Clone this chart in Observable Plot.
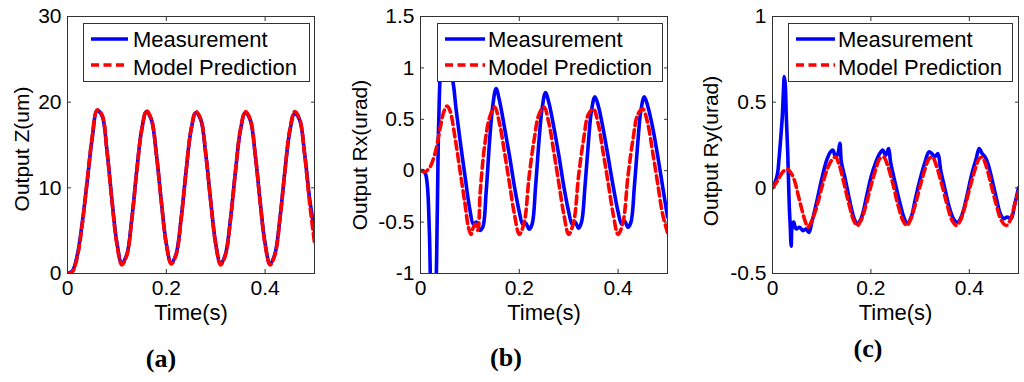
<!DOCTYPE html>
<html><head><meta charset="utf-8">
<script src="https://cdn.jsdelivr.net/npm/d3@7"></script>
<script src="https://cdn.jsdelivr.net/npm/@observablehq/plot@0.6"></script>
<style>
body{margin:0;background:#fff;}
#wrap{position:relative;width:1024px;height:382px;overflow:hidden;background:#fff;}
.panel{position:absolute;top:0;}
.legend{position:absolute;top:23px;z-index:2;}
.cap{position:absolute;font-family:"Liberation Serif","Times New Roman",serif;font-weight:bold;font-size:26px;transform:translate(-50%,-50%);line-height:1;}
</style></head>
<body><div id="wrap"></div>
<script>
// ---------- data ----------
const seriesNames = ["Measurement", "Model Prediction"];
const panelCaptions = ["(a)", "(b)", "(c)"];
const yLabels = ["Output Z(um)", "Output Rx(urad)", "Output Ry(urad)"];
const xLabel = "Time(s)";
const xTicks = [0, 0.2, 0.4];
const yTicksZ = [0, 10, 20, 30];
const yTicksRx = [-1, -0.5, 0, 0.5, 1, 1.5];
const yTicksRy = [-0.5, 0, 0.5, 1];

// Panel (a): Output Z
const timeZ = [0,0.01,0.02,0.03,0.04,0.05,0.06,0.07,0.08,0.09,0.10,0.11,0.12,0.13,0.14,0.15,0.16,0.17,0.18,0.19,0.20,0.21,0.22,0.23,0.24,0.25,0.26,0.27,0.28,0.29,0.30,0.31,0.32,0.33,0.34,0.35,0.36,0.37,0.38,0.39,0.40,0.41,0.42,0.43,0.44,0.45,0.46,0.47,0.48,0.49,0.50];
const measZ = [0,0.3,2.2,6.0,10.8,15.8,19.0,18.4,14.3,8.6,3.6,1.2,2.2,6.3,11.9,16.7,18.9,17.9,13.9,8.4,3.5,1.2,2.3,6.4,11.9,16.7,18.8,17.9,13.9,8.4,3.5,1.1,2.3,6.4,11.9,16.7,18.8,17.9,13.9,8.4,3.5,1.1,2.3,6.4,11.9,16.6,18.7,17.9,14.0,8.8,5.0];
const predZ = [0,0.2,2.0,5.8,10.9,16.0,19.1,18.5,14.2,8.4,3.4,1.0,2.1,6.2,11.8,16.7,19.0,18.0,13.9,8.3,3.4,1.1,2.2,6.3,11.9,16.8,18.9,18.0,13.9,8.3,3.4,1.0,2.2,6.3,11.9,16.8,18.9,18.0,13.9,8.3,3.4,1.0,2.2,6.3,11.9,16.8,18.9,18.0,13.9,8.3,3.6];

// Panel (b): Output Rx
const timeRxMeas = [0,0.005,0.01,0.014,0.018,0.022,0.027,0.031,0.034,0.037,0.041,0.046,0.052,0.058,0.065,0.072,0.08,0.09,0.1,0.107,0.113,0.12,0.126,0.133,0.14,0.146,0.153,0.16,0.17,0.18,0.19,0.2,0.207,0.213,0.22,0.226,0.233,0.24,0.246,0.253,0.26,0.27,0.28,0.29,0.3,0.307,0.313,0.32,0.326,0.333,0.34,0.346,0.353,0.36,0.37,0.38,0.39,0.4,0.407,0.413,0.42,0.426,0.433,0.44,0.446,0.453,0.46,0.47,0.48,0.49,0.5];
const measRx = [0,0.0,-0.03,-0.15,-0.6,-1.3,-1.5,-1.2,-0.4,0.5,1.0,1.15,1.05,0.97,0.88,0.6,0.3,-0.05,-0.38,-0.52,-0.5,-0.58,-0.55,-0.2,0.3,0.62,0.8,0.68,0.42,0.15,-0.15,-0.4,-0.52,-0.51,-0.57,-0.52,-0.15,0.3,0.6,0.76,0.66,0.42,0.15,-0.15,-0.4,-0.52,-0.5,-0.56,-0.5,-0.15,0.28,0.58,0.72,0.63,0.4,0.13,-0.15,-0.4,-0.52,-0.49,-0.55,-0.5,-0.15,0.28,0.58,0.72,0.63,0.42,0.15,-0.15,-0.45];
const timeRxPred = [0,0.01,0.015,0.02,0.03,0.04,0.047,0.054,0.06,0.07,0.08,0.09,0.097,0.102,0.107,0.111,0.116,0.121,0.13,0.14,0.15,0.16,0.17,0.18,0.19,0.2,0.21,0.22,0.23,0.24,0.25,0.26,0.27,0.28,0.29,0.3,0.31,0.32,0.33,0.34,0.35,0.36,0.37,0.38,0.39,0.4,0.41,0.42,0.43,0.44,0.45,0.46,0.47,0.48,0.49,0.5];
const predRx = [0,-0.01,0.01,0.04,0.18,0.42,0.57,0.63,0.58,0.32,0.0,-0.32,-0.55,-0.62,-0.55,-0.52,-0.58,-0.2,0.25,0.52,0.62,0.46,0.18,-0.12,-0.42,-0.62,-0.5,-0.05,0.3,0.55,0.62,0.46,0.18,-0.12,-0.42,-0.62,-0.5,-0.05,0.3,0.55,0.6,0.45,0.17,-0.12,-0.42,-0.62,-0.5,-0.05,0.3,0.55,0.6,0.46,0.18,-0.12,-0.42,-0.6];

// Panel (c): Output Ry
const timeRyMeas = [0,0.005,0.01,0.013,0.017,0.02,0.022,0.024,0.026,0.028,0.031,0.034,0.036,0.038,0.04,0.043,0.048,0.055,0.062,0.068,0.074,0.08,0.09,0.1,0.11,0.118,0.123,0.128,0.133,0.137,0.14,0.148,0.158,0.166,0.172,0.18,0.192,0.2,0.21,0.218,0.224,0.23,0.236,0.24,0.25,0.26,0.268,0.274,0.282,0.29,0.3,0.31,0.318,0.324,0.33,0.336,0.342,0.35,0.36,0.37,0.377,0.385,0.395,0.405,0.414,0.42,0.426,0.432,0.438,0.446,0.455,0.463,0.47,0.477,0.485,0.492,0.5];
const measRy = [0,0.03,0.08,0.16,0.3,0.42,0.55,0.65,0.6,0.42,0.2,-0.1,-0.22,-0.34,-0.22,-0.2,-0.24,-0.23,-0.25,-0.24,-0.26,-0.2,-0.08,0.05,0.16,0.21,0.22,0.18,0.2,0.26,0.15,0.05,-0.09,-0.18,-0.21,-0.18,-0.04,0.06,0.15,0.2,0.22,0.19,0.23,0.15,0.02,-0.1,-0.18,-0.21,-0.17,-0.07,0.05,0.15,0.21,0.2,0.18,0.2,0.1,0.0,-0.12,-0.19,-0.2,-0.16,-0.05,0.08,0.17,0.23,0.2,0.18,0.14,0.05,-0.06,-0.15,-0.18,-0.17,-0.18,-0.1,0.0];
const timeRyPred = [0,0.01,0.02,0.03,0.037,0.045,0.052,0.06,0.067,0.072,0.08,0.09,0.1,0.11,0.12,0.128,0.135,0.145,0.155,0.165,0.172,0.18,0.19,0.2,0.21,0.218,0.226,0.234,0.245,0.255,0.265,0.273,0.28,0.29,0.3,0.31,0.318,0.325,0.333,0.345,0.355,0.365,0.374,0.382,0.392,0.402,0.412,0.42,0.426,0.434,0.445,0.455,0.465,0.475,0.483,0.492,0.5];
const predRy = [0,0.04,0.09,0.11,0.09,0.04,-0.04,-0.13,-0.2,-0.23,-0.19,-0.11,0.0,0.1,0.16,0.18,0.14,0.03,-0.09,-0.19,-0.22,-0.19,-0.1,0.01,0.11,0.17,0.18,0.13,0.02,-0.1,-0.19,-0.22,-0.19,-0.1,0.01,0.11,0.17,0.18,0.13,0.01,-0.1,-0.19,-0.22,-0.19,-0.1,0.01,0.11,0.17,0.18,0.13,0.01,-0.1,-0.19,-0.22,-0.19,-0.1,-0.02];

// ---------- build ----------
const table = (t, v) => t.map((d, i) => ({t: d, v: v[i]}));
const panels = [
  {meas: table(timeZ, measZ), pred: table(timeZ, predZ), yDomain: [0, 30], yTicks: yTicksZ, yLabel: yLabels[0], caption: panelCaptions[0]},
  {meas: table(timeRxMeas, measRx), pred: table(timeRxPred, predRx), yDomain: [-1, 1.5], yTicks: yTicksRx, yLabel: yLabels[1], caption: panelCaptions[1]},
  {meas: table(timeRyMeas, measRy), pred: table(timeRyPred, predRy), yDomain: [-0.5, 1], yTicks: yTicksRy, yLabel: yLabels[2], caption: panelCaptions[2]}
];
// layout (pixels)
const layout = [
  {left: 0, width: 340, ml: 67, mr: 26, labelDx: -45, labelDy: 4, legLeft: 83, legWidth: 227, sw: [8, 45], tx: 50, capX: 161, capY: 359},
  {left: 340, width: 340, ml: 80, mr: 13, labelDx: -60, labelDy: 10, legLeft: 437, legWidth: 226, sw: [8, 48], tx: 51, capX: 506, capY: 358},
  {left: 680, width: 344, ml: 92, mr: 6, labelDx: -61, labelDy: 6, legLeft: 788, legWidth: 225, sw: [8, 47], tx: 50, capX: 868, capY: 349}
];
const BLUE = "#0000ff", RED = "#ff0000";
const fmt = d => String(d);
const wrap = document.getElementById("wrap");

panels.forEach((p, i) => {
  const L = layout[i];
  const chart = Plot.plot({
    width: L.width, height: 330,
    marginLeft: L.ml, marginRight: L.mr, marginTop: 16, marginBottom: 57,
    x: {domain: [0, 0.5]},
    y: {domain: p.yDomain},
    style: {fontFamily: "'Liberation Sans', Arial, sans-serif", fontSize: "21px", color: "#000", background: "transparent", overflow: "visible"},
    marks: [
      Plot.line(p.meas, {x: "t", y: "v", stroke: BLUE, strokeWidth: 3.6, curve: "catmull-rom", clip: true}),
      Plot.line(p.pred, {x: "t", y: "v", stroke: RED, strokeWidth: 3.6, strokeDasharray: "8,4.5", curve: "catmull-rom", clip: true}),
      Plot.frame({stroke: "#333", strokeWidth: 1}),
      Plot.axisX(xTicks, {anchor: "bottom", tickSize: -4, tickFormat: () => "", label: null, stroke: "#333"}),
      Plot.axisX(xTicks, {anchor: "top", tickSize: -4, tickFormat: () => "", label: null, stroke: "#333"}),
      Plot.axisY(p.yTicks, {anchor: "left", tickSize: -4, tickFormat: () => "", label: null, stroke: "#333"}),
      Plot.axisY(p.yTicks, {anchor: "right", tickSize: -4, tickFormat: () => "", label: null, stroke: "#333"}),
      Plot.axisX(xTicks, {anchor: "bottom", tickSize: 0, tickPadding: 7, tickFormat: fmt, label: null, fill: "#000"}),
      Plot.axisY(p.yTicks, {anchor: "left", tickSize: 0, tickPadding: 6, tickFormat: fmt, label: null, fill: "#000"}),
      Plot.text([p.yLabel], {frameAnchor: "left", text: d => d, rotate: -90, dx: L.labelDx, dy: L.labelDy, fontSize: 21, textAnchor: "middle", lineAnchor: "middle", fill: "#000"}),
      Plot.text([xLabel], {frameAnchor: "bottom", text: d => d, dy: 39, fontSize: 22, lineAnchor: "middle", fill: "#000"})
    ]
  });
  chart.classList.add("panel");
  chart.style.left = L.left + "px";
  wrap.appendChild(chart);

  // legend
  const ns = "http://www.w3.org/2000/svg";
  const leg = document.createElementNS(ns, "svg");
  leg.setAttribute("class", "legend");
  leg.setAttribute("width", L.legWidth);
  leg.setAttribute("height", 60);
  leg.style.left = L.legLeft + "px";
  const rect = document.createElementNS(ns, "rect");
  rect.setAttribute("x", 0.5); rect.setAttribute("y", 0.5);
  rect.setAttribute("width", L.legWidth - 1); rect.setAttribute("height", 58);
  rect.setAttribute("fill", "#fff"); rect.setAttribute("stroke", "#333");
  leg.appendChild(rect);
  const rows = [{name: seriesNames[0], color: BLUE, dash: null, ly: 16, ty: 16},
                {name: seriesNames[1], color: RED, dash: "8,4.5", ly: 42, ty: 44}];
  rows.forEach(r => {
    const ln = document.createElementNS(ns, "line");
    ln.setAttribute("x1", L.sw[0]); ln.setAttribute("x2", L.sw[1]);
    ln.setAttribute("y1", r.ly); ln.setAttribute("y2", r.ly);
    ln.setAttribute("stroke", r.color); ln.setAttribute("stroke-width", 3.6);
    if (r.dash) ln.setAttribute("stroke-dasharray", r.dash);
    leg.appendChild(ln);
    const tx = document.createElementNS(ns, "text");
    tx.setAttribute("x", L.tx); tx.setAttribute("y", r.ty);
    tx.setAttribute("dy", "0.35em");
    tx.setAttribute("font-family", "'Liberation Sans', Arial, sans-serif");
    tx.setAttribute("font-size", 22);
    tx.setAttribute("fill", "#000");
    tx.textContent = r.name;
    leg.appendChild(tx);
  });
  wrap.appendChild(leg);

  const cap = document.createElement("div");
  cap.className = "cap";
  cap.style.left = L.capX + "px";
  cap.style.top = L.capY + "px";
  cap.textContent = p.caption;
  wrap.appendChild(cap);
});
</script>
</body></html>
